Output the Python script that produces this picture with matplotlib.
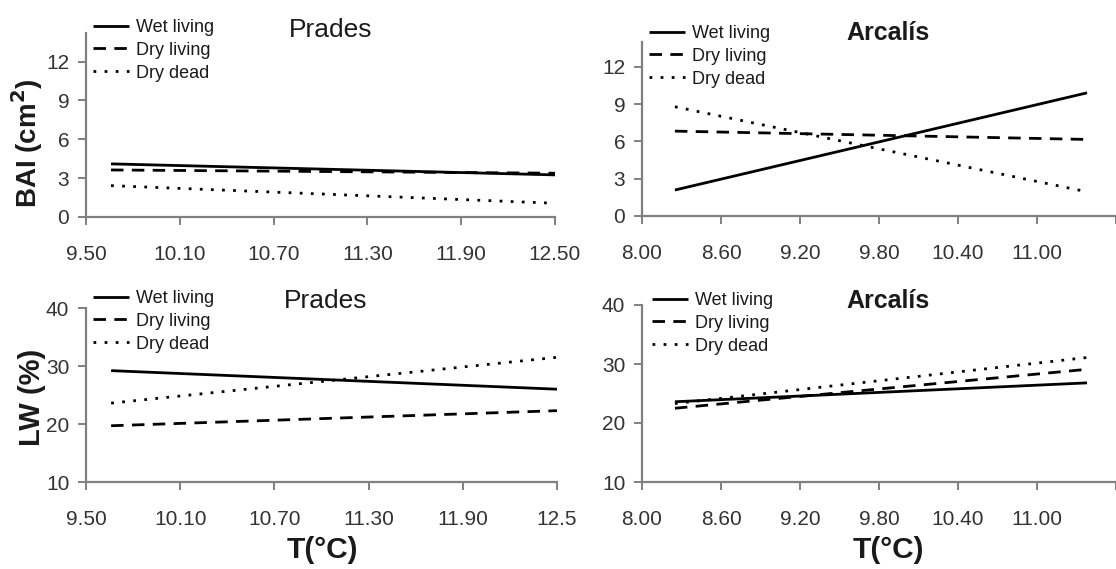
import matplotlib.pyplot as plt

plt.rcParams['font.family'] = ['Liberation Sans', 'DejaVu Sans']

W, H = 1116, 569

# temperature range of the fitted lines
t_prades = [9.66, 12.50]
t_arcalis = [8.25, 11.38]

series = ["Wet living", "Dry living", "Dry dead"]

bai_prades = {"Wet living": [4.10, 3.25], "Dry living": [3.63, 3.38], "Dry dead": [2.42, 1.06]}
bai_arcalis = {"Wet living": [2.09, 9.91], "Dry living": [6.83, 6.16], "Dry dead": [8.79, 1.95]}
lw_prades = {"Wet living": [29.2, 26.0], "Dry living": [19.7, 22.3], "Dry dead": [23.6, 31.5]}
lw_arcalis = {"Wet living": [23.6, 26.8], "Dry living": [22.5, 29.1], "Dry dead": [23.3, 31.1]}

prades_ticks = [9.50, 10.10, 10.70, 11.30, 11.90, 12.50]
arcalis_ticks = [8.00, 8.60, 9.20, 9.80, 10.40, 11.00, 11.60]

styles = {"Wet living": "-", "Dry living": (0, (4.5, 3)), "Dry dead": (0, (1, 3))}


def add_axes(fig, left, right, top, bottom):
    return fig.add_axes([left / W, 1 - bottom / H, (right - left) / W, (bottom - top) / H])


def ftext(fig, x, y, s, **kw):
    fig.text(x / W, 1 - y / H, s, ha="center", va="center", color="#1a1a1a", **kw)


fig = plt.figure(figsize=(W / 100, H / 100), dpi=100)

panels = [
    # data, t, xlim, ylim, yticks, xticks, xlabels, box, legend top-left
    (bai_prades, t_prades, (9.5, 12.5), (0, 14.2), [0, 3, 6, 9, 12], prades_ticks,
     ["9.50", "10.10", "10.70", "11.30", "11.90", "12.50"], (86, 555, 33, 217), (93, 19)),
    (bai_arcalis, t_arcalis, (8.0, 11.43), (0, 14.0), [0, 3, 6, 9, 12], arcalis_ticks,
     ["8.00", "8.60", "9.20", "9.80", "10.40", "11.00", ""], (642, 1116, 42, 216), (649, 25)),
    (lw_prades, t_prades, (9.5, 12.5), (10, 40), [10, 20, 30, 40], prades_ticks,
     ["9.50", "10.10", "10.70", "11.30", "11.90", "12.5"], (86, 557, 308, 482), (93, 290)),
    (lw_arcalis, t_arcalis, (8.0, 11.43), (10, 40), [10, 20, 30, 40], arcalis_ticks,
     ["8.00", "8.60", "9.20", "9.80", "10.40", "11.00", ""], (642, 1116, 305, 482), (652, 292)),
]

for data, t, xlim, ylim, yticks, xticks, xlabels, box, leg in panels:
    ax = add_axes(fig, *box)
    for name in series:
        ax.plot(t, data[name], color="black", lw=2.0, linestyle=styles[name], label=name,
                solid_capstyle="butt", dash_capstyle="butt")
    ax.set_xlim(*xlim)
    ax.set_ylim(*ylim)
    ax.set_xticks(xticks)
    ax.set_xticklabels(xlabels)
    ax.set_yticks(yticks)
    for s in ["top", "right"]:
        ax.spines[s].set_visible(False)
    for s in ["left", "bottom"]:
        ax.spines[s].set_color("#808080")
        ax.spines[s].set_linewidth(1.6)
    ax.tick_params(axis="both", colors="#808080", labelcolor="#333333", labelsize=15,
                   width=1.4, length=6, direction="out")
    ax.tick_params(axis="x", pad=14)
    ax.tick_params(axis="y", pad=6)
    ax.patch.set_alpha(0)
    ax.legend(loc="upper left", bbox_to_anchor=(leg[0] / W, 1 - leg[1] / H),
              bbox_transform=fig.transFigure, frameon=False, fontsize=13,
              handlelength=2.0, handletextpad=0.4, labelspacing=0.32,
              borderpad=0, borderaxespad=0, labelcolor="#1a1a1a")

ftext(fig, 331, 30, "Prades", fontsize=19)
ftext(fig, 888, 33, "Arcalís", fontsize=18, fontweight="bold")
ftext(fig, 326, 301, "Prades", fontsize=19)
ftext(fig, 888, 301, "Arcalís", fontsize=18, fontweight="bold")

ftext(fig, 27, 143, "BAI (cm$^\\mathbf{2}$)", fontsize=20, fontweight="bold", rotation=90)
ftext(fig, 32, 397, "LW (%)", fontsize=21, fontweight="bold", rotation=90)
ftext(fig, 322, 550, "T(°C)", fontsize=21.5, fontweight="bold")
ftext(fig, 888, 550, "T(°C)", fontsize=21.5, fontweight="bold")

fig.savefig("out.png", dpi=100, facecolor="white")
